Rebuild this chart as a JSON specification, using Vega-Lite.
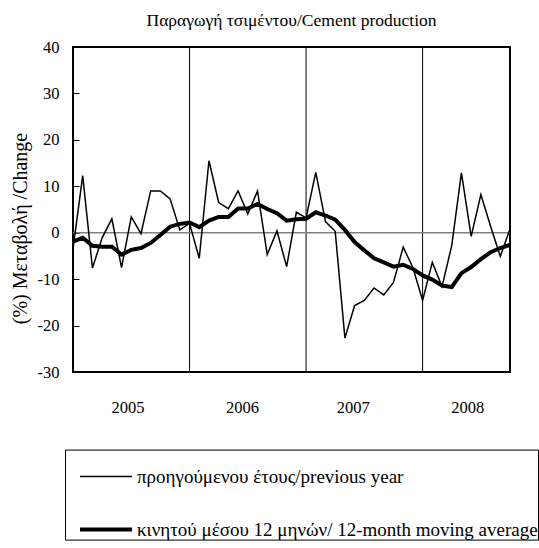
{
  "$schema": "https://vega.github.io/schema/vega-lite/v6.json",
  "width": 437,
  "height": 325,
  "autosize": {"type": "none"},
  "padding": {"left": 73, "top": 47, "right": 29, "bottom": 176},
  "background": "white",
  "config": {"view": {"stroke": "black", "strokeWidth": 2}, "font": "Liberation Serif"},
  "title": {"text": "Παραγωγή τσιμέντου/Cement production", "font": "Liberation Serif", "fontSize": 17.5, "fontWeight": "normal", "color": "black", "offset": 10, "anchor": "middle"},
  "datasets": {
    "dividers": [{"i": 12}, {"i": 24}, {"i": 36}],
    "zero": [{"value": 0}],
    "series": [
      {"i": 0, "s": "προηγούμενου έτους/previous year", "value": -3.5},
      {"i": 1, "s": "προηγούμενου έτους/previous year", "value": 12.3},
      {"i": 2, "s": "προηγούμενου έτους/previous year", "value": -7.6},
      {"i": 3, "s": "προηγούμενου έτους/previous year", "value": -1.1},
      {"i": 4, "s": "προηγούμενου έτους/previous year", "value": 3.0},
      {"i": 5, "s": "προηγούμενου έτους/previous year", "value": -7.5},
      {"i": 6, "s": "προηγούμενου έτους/previous year", "value": 3.4},
      {"i": 7, "s": "προηγούμενου έτους/previous year", "value": -0.2},
      {"i": 8, "s": "προηγούμενου έτους/previous year", "value": 9.0},
      {"i": 9, "s": "προηγούμενου έτους/previous year", "value": 9.0},
      {"i": 10, "s": "προηγούμενου έτους/previous year", "value": 7.3},
      {"i": 11, "s": "προηγούμενου έτους/previous year", "value": 0.6},
      {"i": 12, "s": "προηγούμενου έτους/previous year", "value": 2.0},
      {"i": 13, "s": "προηγούμενου έτους/previous year", "value": -5.5},
      {"i": 14, "s": "προηγούμενου έτους/previous year", "value": 15.5},
      {"i": 15, "s": "προηγούμενου έτους/previous year", "value": 6.5},
      {"i": 16, "s": "προηγούμενου έτους/previous year", "value": 5.2},
      {"i": 17, "s": "προηγούμενου έτους/previous year", "value": 9.0},
      {"i": 18, "s": "προηγούμενου έτους/previous year", "value": 4.0},
      {"i": 19, "s": "προηγούμενου έτους/previous year", "value": 9.0},
      {"i": 20, "s": "προηγούμενου έτους/previous year", "value": -4.7},
      {"i": 21, "s": "προηγούμενου έτους/previous year", "value": 0.4},
      {"i": 22, "s": "προηγούμενου έτους/previous year", "value": -7.3},
      {"i": 23, "s": "προηγούμενου έτους/previous year", "value": 4.4},
      {"i": 24, "s": "προηγούμενου έτους/previous year", "value": 3.2},
      {"i": 25, "s": "προηγούμενου έτους/previous year", "value": 13.0},
      {"i": 26, "s": "προηγούμενου έτους/previous year", "value": 2.4},
      {"i": 27, "s": "προηγούμενου έτους/previous year", "value": 0.3},
      {"i": 28, "s": "προηγούμενου έτους/previous year", "value": -22.7},
      {"i": 29, "s": "προηγούμενου έτους/previous year", "value": -15.7},
      {"i": 30, "s": "προηγούμενου έτους/previous year", "value": -14.6},
      {"i": 31, "s": "προηγούμενου έτους/previous year", "value": -11.9},
      {"i": 32, "s": "προηγούμενου έτους/previous year", "value": -13.4},
      {"i": 33, "s": "προηγούμενου έτους/previous year", "value": -10.7},
      {"i": 34, "s": "προηγούμενου έτους/previous year", "value": -3.1},
      {"i": 35, "s": "προηγούμενου έτους/previous year", "value": -7.5},
      {"i": 36, "s": "προηγούμενου έτους/previous year", "value": -14.6},
      {"i": 37, "s": "προηγούμενου έτους/previous year", "value": -6.4},
      {"i": 38, "s": "προηγούμενου έτους/previous year", "value": -11.6},
      {"i": 39, "s": "προηγούμενου έτους/previous year", "value": -2.8},
      {"i": 40, "s": "προηγούμενου έτους/previous year", "value": 12.9},
      {"i": 41, "s": "προηγούμενου έτους/previous year", "value": -0.8},
      {"i": 42, "s": "προηγούμενου έτους/previous year", "value": 8.2},
      {"i": 43, "s": "προηγούμενου έτους/previous year", "value": 1.4},
      {"i": 44, "s": "προηγούμενου έτους/previous year", "value": -5.1},
      {"i": 45, "s": "προηγούμενου έτους/previous year", "value": 0.8},
      {"i": 0, "s": "κινητού μέσου 12 μηνών/ 12-month moving average", "value": -1.9},
      {"i": 1, "s": "κινητού μέσου 12 μηνών/ 12-month moving average", "value": -1.1},
      {"i": 2, "s": "κινητού μέσου 12 μηνών/ 12-month moving average", "value": -2.8},
      {"i": 3, "s": "κινητού μέσου 12 μηνών/ 12-month moving average", "value": -3.0},
      {"i": 4, "s": "κινητού μέσου 12 μηνών/ 12-month moving average", "value": -3.0},
      {"i": 5, "s": "κινητού μέσου 12 μηνών/ 12-month moving average", "value": -4.7},
      {"i": 6, "s": "κινητού μέσου 12 μηνών/ 12-month moving average", "value": -3.7},
      {"i": 7, "s": "κινητού μέσου 12 μηνών/ 12-month moving average", "value": -3.3},
      {"i": 8, "s": "κινητού μέσου 12 μηνών/ 12-month moving average", "value": -2.2},
      {"i": 9, "s": "κινητού μέσου 12 μηνών/ 12-month moving average", "value": -0.5},
      {"i": 10, "s": "κινητού μέσου 12 μηνών/ 12-month moving average", "value": 1.3},
      {"i": 11, "s": "κινητού μέσου 12 μηνών/ 12-month moving average", "value": 1.9},
      {"i": 12, "s": "κινητού μέσου 12 μηνών/ 12-month moving average", "value": 2.2},
      {"i": 13, "s": "κινητού μέσου 12 μηνών/ 12-month moving average", "value": 1.2},
      {"i": 14, "s": "κινητού μέσου 12 μηνών/ 12-month moving average", "value": 2.6},
      {"i": 15, "s": "κινητού μέσου 12 μηνών/ 12-month moving average", "value": 3.4},
      {"i": 16, "s": "κινητού μέσου 12 μηνών/ 12-month moving average", "value": 3.4},
      {"i": 17, "s": "κινητού μέσου 12 μηνών/ 12-month moving average", "value": 5.2},
      {"i": 18, "s": "κινητού μέσου 12 μηνών/ 12-month moving average", "value": 5.2},
      {"i": 19, "s": "κινητού μέσου 12 μηνών/ 12-month moving average", "value": 6.2},
      {"i": 20, "s": "κινητού μέσου 12 μηνών/ 12-month moving average", "value": 5.1},
      {"i": 21, "s": "κινητού μέσου 12 μηνών/ 12-month moving average", "value": 4.2},
      {"i": 22, "s": "κινητού μέσου 12 μηνών/ 12-month moving average", "value": 2.6},
      {"i": 23, "s": "κινητού μέσου 12 μηνών/ 12-month moving average", "value": 2.9},
      {"i": 24, "s": "κινητού μέσου 12 μηνών/ 12-month moving average", "value": 3.0},
      {"i": 25, "s": "κινητού μέσου 12 μηνών/ 12-month moving average", "value": 4.4},
      {"i": 26, "s": "κινητού μέσου 12 μηνών/ 12-month moving average", "value": 3.7},
      {"i": 27, "s": "κινητού μέσου 12 μηνών/ 12-month moving average", "value": 2.8},
      {"i": 28, "s": "κινητού μέσου 12 μηνών/ 12-month moving average", "value": 0.6},
      {"i": 29, "s": "κινητού μέσου 12 μηνών/ 12-month moving average", "value": -2.0},
      {"i": 30, "s": "κινητού μέσου 12 μηνών/ 12-month moving average", "value": -3.8},
      {"i": 31, "s": "κινητού μέσου 12 μηνών/ 12-month moving average", "value": -5.5},
      {"i": 32, "s": "κινητού μέσου 12 μηνών/ 12-month moving average", "value": -6.4},
      {"i": 33, "s": "κινητού μέσου 12 μηνών/ 12-month moving average", "value": -7.3},
      {"i": 34, "s": "κινητού μέσου 12 μηνών/ 12-month moving average", "value": -6.9},
      {"i": 35, "s": "κινητού μέσου 12 μηνών/ 12-month moving average", "value": -7.8},
      {"i": 36, "s": "κινητού μέσου 12 μηνών/ 12-month moving average", "value": -9.2},
      {"i": 37, "s": "κινητού μέσου 12 μηνών/ 12-month moving average", "value": -10.1},
      {"i": 38, "s": "κινητού μέσου 12 μηνών/ 12-month moving average", "value": -11.4},
      {"i": 39, "s": "κινητού μέσου 12 μηνών/ 12-month moving average", "value": -11.7},
      {"i": 40, "s": "κινητού μέσου 12 μηνών/ 12-month moving average", "value": -8.7},
      {"i": 41, "s": "κινητού μέσου 12 μηνών/ 12-month moving average", "value": -7.4},
      {"i": 42, "s": "κινητού μέσου 12 μηνών/ 12-month moving average", "value": -5.7},
      {"i": 43, "s": "κινητού μέσου 12 μηνών/ 12-month moving average", "value": -4.2},
      {"i": 44, "s": "κινητού μέσου 12 μηνών/ 12-month moving average", "value": -3.3},
      {"i": 45, "s": "κινητού μέσου 12 μηνών/ 12-month moving average", "value": -2.6}
    ]
  },
  "layer": [
    {
      "data": {"name": "dividers"},
      "mark": {"type": "rule", "stroke": "black", "strokeWidth": 1},
      "encoding": {
        "x": {"field": "i", "type": "quantitative", "scale": {"domain": [0, 45], "nice": false, "zero": false},
          "axis": {"values": [5.6, 17.4, 28.8, 40.6], "labelExpr": "datum.value < 12 ? '2005' : datum.value < 24 ? '2006' : datum.value < 36 ? '2007' : '2008'", "title": null, "ticks": false, "domain": false, "grid": false, "labelFont": "Liberation Serif", "labelFontSize": 16.5, "labelColor": "black", "labelPadding": 27}}
      }
    },
    {
      "data": {"name": "zero"},
      "mark": {"type": "rule", "stroke": "#808080", "strokeWidth": 1.5},
      "encoding": {
        "y": {"field": "value", "type": "quantitative", "scale": {"domain": [-30, 40], "nice": false},
          "axis": {"values": [-30, -20, -10, 0, 10, 20, 30, 40], "labelExpr": "datum.value < 0 ? '-' + abs(datum.value) : '' + datum.value", "title": "(%) Μεταβολή /Change", "titleFont": "Liberation Serif", "titleFontSize": 20, "titleFontWeight": "normal", "titleColor": "black", "titlePadding": 7, "titleY": 181, "labelFont": "Liberation Serif", "labelFontSize": 16.5, "labelColor": "black", "tickColor": "black", "tickSize": -6, "tickWidth": 1, "domain": false, "grid": false, "labelPadding": 20}}
      }
    },
    {
      "data": {"name": "series"},
      "mark": {"type": "line", "color": "black"},
      "encoding": {
        "x": {"field": "i", "type": "quantitative", "scale": {"domain": [0, 45], "nice": false, "zero": false},
          "axis": {"values": [5.6, 17.4, 28.8, 40.6], "labelExpr": "datum.value < 12 ? '2005' : datum.value < 24 ? '2006' : datum.value < 36 ? '2007' : '2008'", "title": null, "ticks": false, "domain": false, "grid": false, "labelFont": "Liberation Serif", "labelFontSize": 16.5, "labelColor": "black", "labelPadding": 27}},
        "y": {"field": "value", "type": "quantitative", "scale": {"domain": [-30, 40], "nice": false},
          "axis": {"values": [-30, -20, -10, 0, 10, 20, 30, 40], "labelExpr": "datum.value < 0 ? '-' + abs(datum.value) : '' + datum.value", "title": "(%) Μεταβολή /Change", "titleFont": "Liberation Serif", "titleFontSize": 20, "titleFontWeight": "normal", "titleColor": "black", "titlePadding": 7, "titleY": 181, "labelFont": "Liberation Serif", "labelFontSize": 16.5, "labelColor": "black", "tickColor": "black", "tickSize": -6, "tickWidth": 1, "domain": false, "grid": false, "labelPadding": 20}},
        "strokeWidth": {"field": "s", "type": "ordinal",
          "scale": {"domain": ["προηγούμενου έτους/previous year", "κινητού μέσου 12 μηνών/ 12-month moving average"], "range": [1.5, 4]},
          "legend": {"orient": "none", "legendX": -8, "legendY": 402.6, "title": null, "symbolType": "stroke", "symbolSize": 2704, "symbolStrokeColor": "black", "symbolOffset": 13, "labelFont": "Liberation Serif", "labelFontSize": 19, "labelColor": "black", "labelOffset": 3, "labelLimit": 700, "labelExpr": "datum.label + '          '", "strokeColor": "black", "padding": 0, "rowPadding": 15, "fillColor": "white"}}
      }
    }
  ]
}
